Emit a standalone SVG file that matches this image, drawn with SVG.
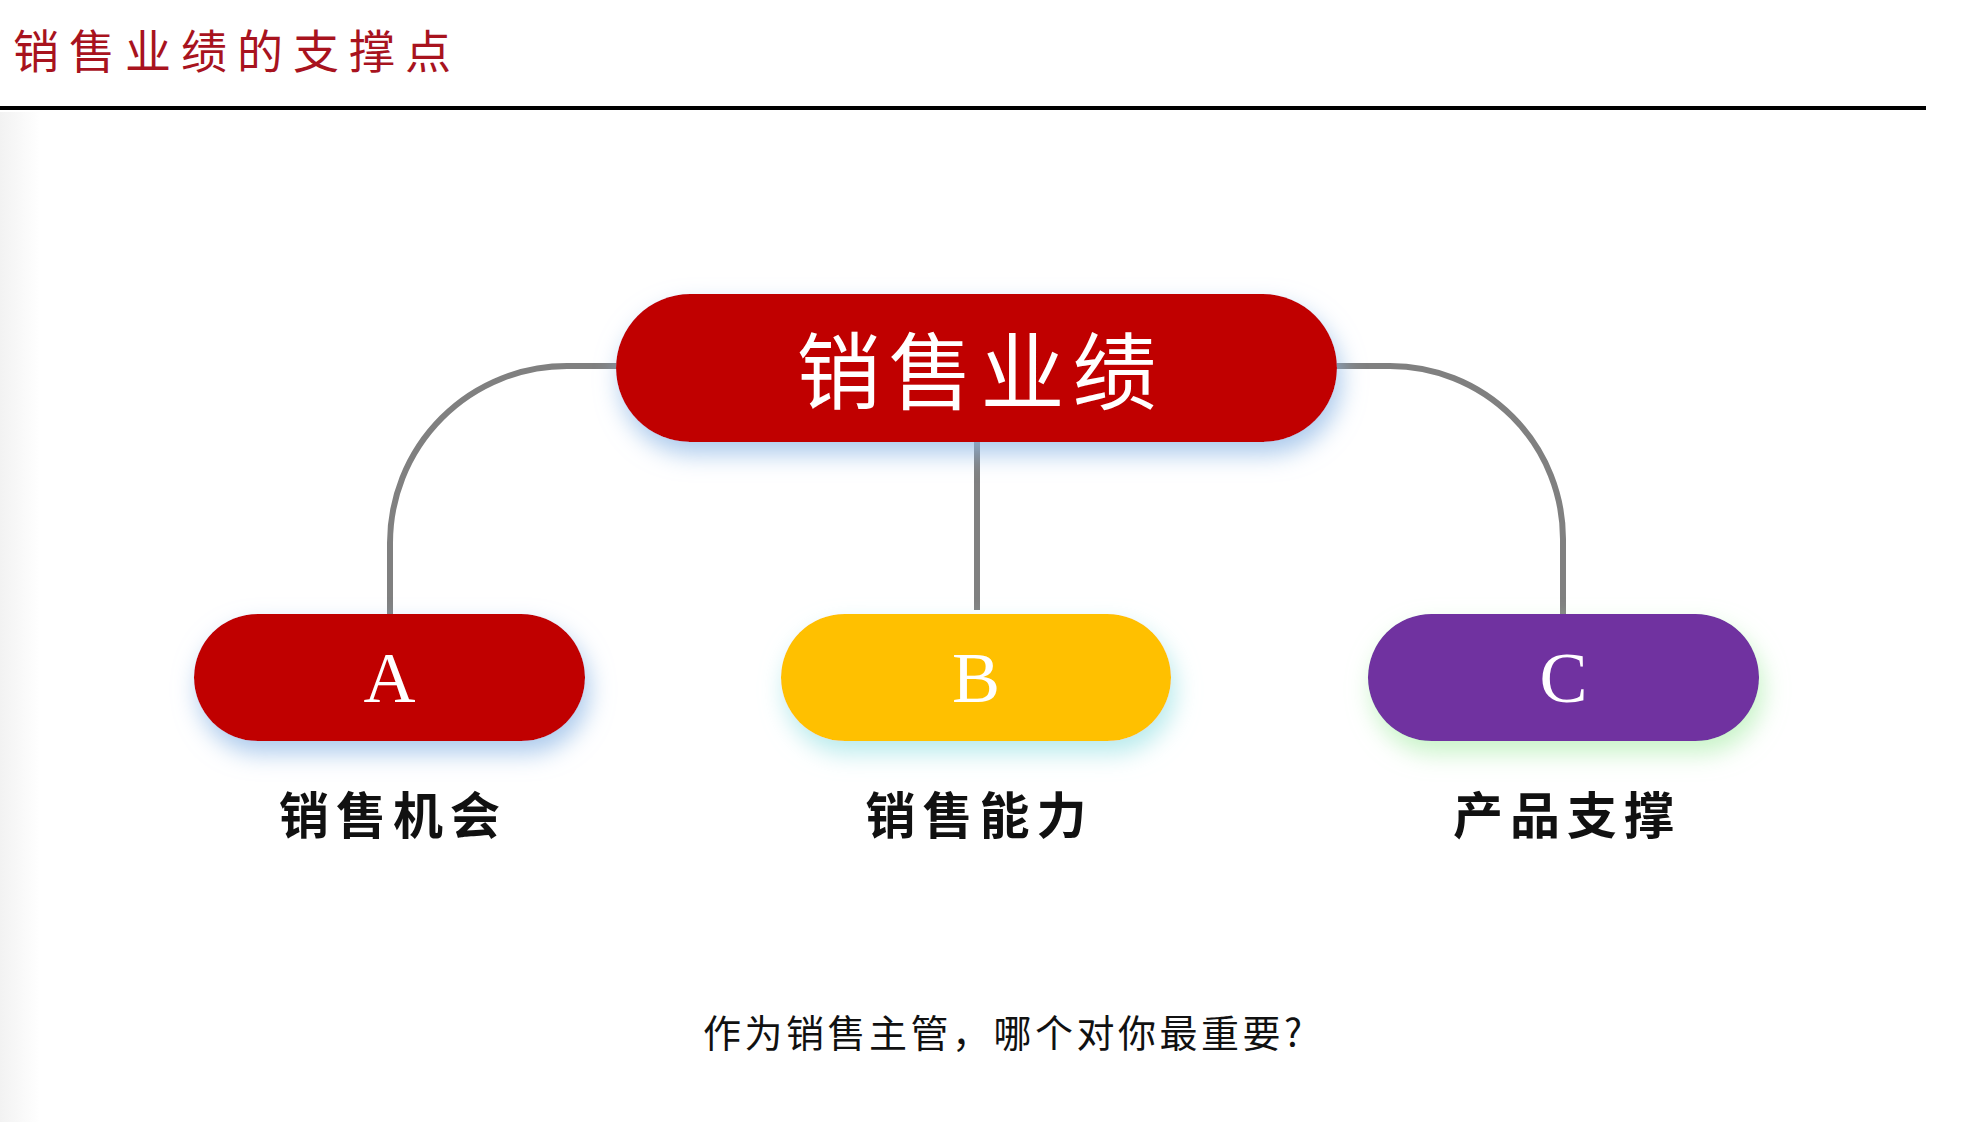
<svg xmlns="http://www.w3.org/2000/svg" width="1978" height="1122" viewBox="0 0 1978 1122">
  <defs>
    <linearGradient id="edge" x1="0" y1="0" x2="1" y2="0">
      <stop offset="0" stop-color="#f2f2f2"/>
      <stop offset="1" stop-color="#ffffff"/>
    </linearGradient>
    <filter id="shBlue" x="-20%" y="-40%" width="140%" height="190%">
      <feDropShadow dx="4" dy="12" stdDeviation="12" flood-color="#8fb8e6" flood-opacity="0.75"/>
    </filter>
    <filter id="shCyan" x="-20%" y="-40%" width="140%" height="190%">
      <feDropShadow dx="4" dy="12" stdDeviation="12" flood-color="#9fe3e6" flood-opacity="0.75"/>
    </filter>
    <filter id="shGreen" x="-20%" y="-40%" width="140%" height="190%">
      <feDropShadow dx="4" dy="12" stdDeviation="12" flood-color="#b4efb4" flood-opacity="0.75"/>
    </filter>
  </defs>
  <style>
    .conn { fill: none; stroke: #808080; stroke-width: 6; }
    .cjk { font-family: "Noto Sans CJK SC", "Noto Sans", sans-serif; }
    .letter { font-family: "Liberation Serif", serif; font-size: 72px; fill: #ffffff; text-anchor: middle; }
    .label { font-family: "Noto Sans CJK SC", sans-serif; font-size: 50px; font-weight: 700; fill: #111111; text-anchor: middle; letter-spacing: 7px; }
  </style>
  <rect x="0" y="0" width="1978" height="1122" fill="#ffffff"/>
  <rect x="0" y="112" width="40" height="1010" fill="url(#edge)"/>

  <g id="title">
    <text x="13" y="68" class="cjk" font-size="46" fill="#a8131e" letter-spacing="10">销售业绩的支撑点</text>
    <rect x="0" y="106" width="1926" height="4" fill="#000000"/>
  </g>

  <g id="connectors">
    <path class="conn" d="M620,366 H567 A177,177 0 0 0 390,543 V614"/>
    <path class="conn" d="M1333,366 H1390 A173,173 0 0 1 1563,539 V614"/>
    <path class="conn" d="M977,440 V610"/>
  </g>

  <g id="node-main">
    <rect x="616" y="294" width="721" height="148" rx="74" fill="#c00000" filter="url(#shBlue)"/>
    <text x="980.5" y="403" class="cjk" font-size="84" fill="#ffffff" text-anchor="middle" letter-spacing="8">销售业绩</text>
  </g>

  <g id="node-a">
    <rect x="194" y="614" width="391" height="127" rx="63.5" fill="#c00000" filter="url(#shBlue)"/>
    <text x="389.5" y="702" class="letter">A</text>
    <text x="393" y="834" class="label">销售机会</text>
  </g>

  <g id="node-b">
    <rect x="781" y="614" width="390" height="127" rx="63.5" fill="#ffc000" filter="url(#shCyan)"/>
    <text x="976" y="702" class="letter">B</text>
    <text x="979.5" y="834" class="label">销售能力</text>
  </g>

  <g id="node-c">
    <rect x="1368" y="614" width="391" height="127" rx="63.5" fill="#7030a0" filter="url(#shGreen)"/>
    <text x="1563.5" y="702" class="letter">C</text>
    <text x="1567" y="834" class="label">产品支撑</text>
  </g>

  <g id="question">
    <text x="703" y="1047" class="cjk" font-size="38" fill="#111111" letter-spacing="3.5">作为销售主管，哪个对你最重要?</text>
  </g>
</svg>
